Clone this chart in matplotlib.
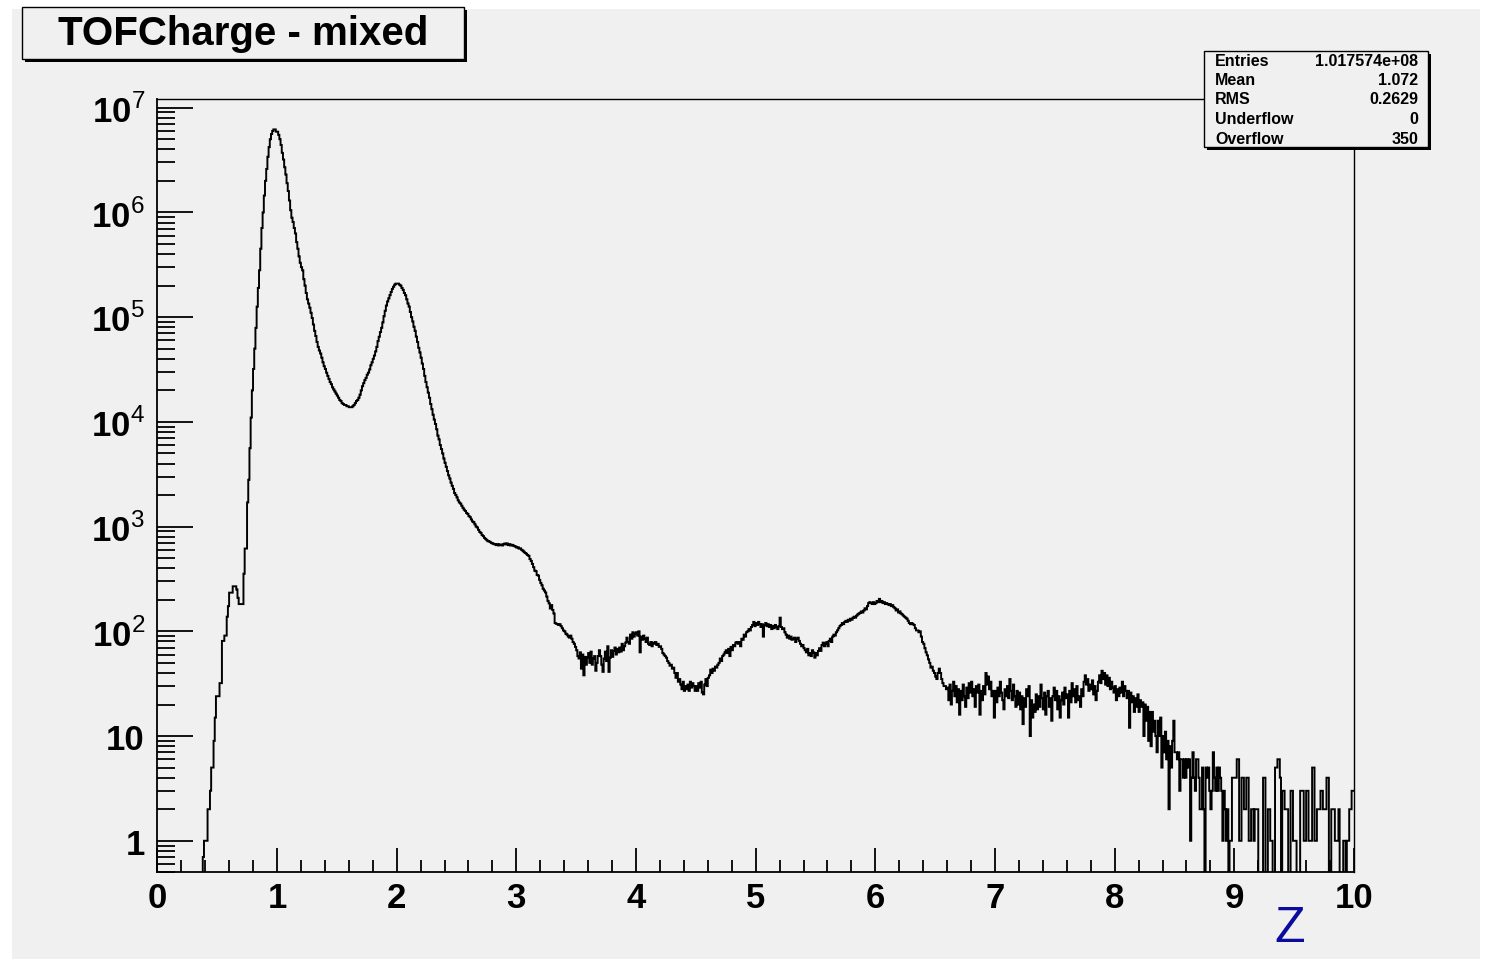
import numpy as np
import matplotlib
matplotlib.use("Agg")
import matplotlib.pyplot as plt
from matplotlib.patches import Rectangle
from matplotlib.ticker import (FixedLocator, LogLocator, MultipleLocator,
                               NullFormatter, FuncFormatter)

plt.rcParams["font.family"] = ["Liberation Sans", "DejaVu Sans"]
plt.rcParams["mathtext.fontset"] = "custom"
plt.rcParams["mathtext.rm"] = "Liberation Sans"
plt.rcParams["mathtext.bf"] = "Liberation Sans:bold"

# TOF charge histogram, 1000 bins of 0.01 in Z, one list per unit of Z
counts_z0 = [
    0, 0, 0, 0, 0, 0, 0, 0, 0, 0,
    0, 0, 0, 0, 0, 0, 0, 0, 0, 0,
    0, 0, 0, 0, 0, 0, 0, 0, 0, 0,
    0, 0, 0, 0, 0, 0, 0, 0, 0.7, 1,
    1, 1, 2, 2, 3, 5, 5, 9, 15, 24,
    24, 24, 32, 32, 81, 81, 91, 91, 138, 174,
    234, 234, 234, 269, 269, 269, 251, 209, 182, 182,
    182, 182, 355, 617, 617, 1700, 2800, 5600, 1.1e4, 2.0e4,
    3.2e4, 5.0e4, 7.9e4, 1.26e5, 1.9e5, 2.8e5, 4.5e5, 7.1e5, 1.0e6, 1.45e6,
    2.0e6, 2.6e6, 3.4e6, 4.2e6, 5.0e6, 5.6e6, 6.0e6, 6.2e6, 6.2e6, 5.9e6,
]
counts_z1 = [
    5.9e6, 5.5e6, 5.0e6, 4.4e6, 3.7e6, 3.2e6, 2.7e6, 2.3e6, 1.9e6, 1.6e6,
    1.3e6, 1.05e6, 8.9e5, 8.1e5, 7.1e5, 6.3e5, 5.2e5, 4.5e5, 3.8e5, 3.3e5,
    3.0e5, 2.8e5, 2.3e5, 2.0e5, 1.7e5, 1.48e5, 1.35e5, 1.23e5, 1.1e5, 9.8e4,
    8.5e4, 7.4e4, 6.6e4, 5.8e4, 5.2e4, 4.8e4, 4.5e4, 4.1e4, 3.7e4, 3.4e4,
    3.2e4, 2.95e4, 2.75e4, 2.57e4, 2.4e4, 2.29e4, 2.14e4, 2.04e4, 1.95e4, 1.86e4,
    1.78e4, 1.7e4, 1.62e4, 1.58e4, 1.51e4, 1.48e4, 1.45e4, 1.45e4, 1.41e4, 1.41e4,
    1.38e4, 1.38e4, 1.38e4, 1.41e4, 1.45e4, 1.51e4, 1.58e4, 1.62e4, 1.7e4, 1.82e4,
    2.0e4, 2.19e4, 2.34e4, 2.5e4, 2.63e4, 2.82e4, 2.95e4, 3.16e4, 3.47e4, 3.7e4,
    4.0e4, 4.3e4, 4.7e4, 5.2e4, 5.9e4, 6.5e4, 7.2e4, 7.9e4, 8.9e4, 1.02e5,
    1.15e5, 1.29e5, 1.41e5, 1.51e5, 1.62e5, 1.74e5, 1.86e5, 1.95e5, 2.04e5, 2.09e5,
]
counts_z2 = [
    2.09e5, 2.09e5, 2.04e5, 2.0e5, 1.9e5, 1.82e5, 1.7e5, 1.62e5, 1.48e5, 1.35e5,
    1.26e5, 1.12e5, 1.0e5, 9.1e4, 8.1e4, 7.4e4, 6.5e4, 5.8e4, 5.1e4, 4.6e4,
    4.1e4, 3.6e4, 3.2e4, 2.75e4, 2.4e4, 2.14e4, 1.9e4, 1.7e4, 1.48e4, 1.32e4,
    1.17e4, 1.05e4, 9550, 8500, 7400, 6800, 6000, 5500, 5000, 4470,
    4070, 3720, 3390, 3090, 2880, 2630, 2450, 2290, 2090, 2000,
    1900, 1780, 1700, 1660, 1580, 1510, 1450, 1410, 1350, 1320,
    1260, 1230, 1170, 1120, 1100, 1050, 1000, 980, 930, 890,
    870, 830, 810, 780, 760, 740, 725, 720, 710, 695,
    690, 680, 675, 665, 680, 660, 675, 670, 660, 680,
    690, 675, 690, 665, 680, 660, 670, 660, 650, 645,
]
counts_z3 = [
    630, 635, 615, 620, 600, 590, 575, 560, 550, 535,
    525, 490, 470, 440, 410, 380, 375, 345, 340, 310,
    290, 275, 255, 245, 235, 215, 195, 185, 165, 178,
    160, 148, 120, 118, 117, 115, 117, 112, 107, 102,
    100, 95, 93, 89, 87, 91, 85, 79, 76, 71,
    66, 58, 55, 63, 44, 60, 38, 57, 48, 56,
    62, 50, 64, 48, 55, 58, 42, 50, 58, 66,
    58, 48, 41, 55, 64, 52, 72, 41, 56, 66,
    57, 65, 70, 60, 68, 63, 70, 64, 76, 66,
    72, 78, 87, 79, 76, 93, 85, 98, 89, 95,
]
counts_z4 = [
    98, 91, 100, 63, 89, 83, 91, 85, 79, 87,
    76, 74, 79, 72, 78, 76, 79, 74, 76, 71,
    72, 68, 62, 60, 58, 56, 52, 50, 47, 48,
    44, 45, 40, 36, 40, 33, 35, 31, 28, 33,
    27, 30, 28, 31, 27, 33, 29, 32, 30, 27,
    30, 27, 32, 29, 33, 26, 25, 31, 35, 30,
    36, 38, 43, 40, 44, 42, 46, 45, 48, 50,
    55, 52, 58, 60, 63, 66, 62, 68, 58, 71,
    66, 74, 72, 78, 79, 76, 79, 72, 85, 83,
    93, 89, 98, 100, 105, 102, 110, 115, 123, 112,
]
counts_z5 = [
    120, 115, 123, 117, 110, 117, 89, 115, 120, 112,
    117, 110, 115, 105, 112, 107, 115, 110, 105, 112,
    135, 110, 105, 107, 98, 93, 87, 91, 85, 89,
    83, 85, 87, 79, 85, 87, 81, 76, 72, 74,
    69, 66, 63, 68, 59, 62, 58, 66, 63, 56,
    62, 59, 65, 69, 65, 74, 78, 72, 76, 79,
    72, 81, 85, 79, 89, 93, 91, 98, 102, 107,
    112, 115, 120, 117, 123, 126, 123, 129, 126, 132,
    129, 135, 138, 135, 141, 145, 148, 151, 155, 151,
    158, 166, 162, 174, 186, 190, 186, 182, 190, 182,
]
counts_z6 = [
    186, 195, 190, 204, 190, 195, 186, 190, 182, 186,
    182, 178, 182, 174, 178, 170, 166, 158, 162, 151,
    155, 148, 145, 141, 138, 135, 132, 126, 120, 117,
    120, 117, 115, 107, 102, 102, 98, 100, 89, 79,
    76, 69, 63, 59, 54, 50, 45, 46, 42, 40,
    37, 35, 40, 44, 40, 35, 32, 30, 30, 28,
    29, 22, 31, 20, 27, 33, 24, 30, 21, 28,
    16, 27, 22, 31, 24, 19, 29, 23, 32, 26,
    33, 24, 28, 19, 30, 26, 31, 16, 27, 22,
    30, 25, 40, 31, 37, 28, 33, 24, 27, 15,
]
counts_z7 = [
    27, 21, 29, 24, 33, 26, 22, 18, 28, 24,
    30, 23, 35, 27, 22, 31, 24, 19, 27, 20,
    26, 18, 24, 13, 23, 19, 28, 24, 30, 10,
    22, 15, 20, 17, 25, 18, 24, 19, 31, 23,
    18, 26, 16, 24, 27, 19, 23, 14, 24, 29,
    22, 27, 18, 24, 15, 22, 26, 20, 29, 23,
    25, 15, 27, 21, 32, 24, 28, 21, 30, 22,
    24, 19, 28, 24, 33, 38, 31, 35, 27, 31,
    28, 34, 25, 30, 22, 27, 33, 38, 32, 42,
    35, 40, 31, 38, 30, 36, 28, 33, 29, 26,
]
counts_z8 = [
    30, 22, 28, 24, 29, 26, 33, 24, 30, 27,
    23, 27, 12, 26, 21, 24, 17, 23, 19, 25,
    17, 22, 19, 21, 10, 20, 14, 19, 9, 17,
    8, 17, 11, 14, 10, 7, 14, 10, 15, 5,
    10, 7, 11, 6, 9, 2, 8, 5, 9, 14,
    7, 7, 6, 7, 3, 6, 6, 4, 6, 4,
    6, 5, 6, 1, 4, 7, 4, 3, 6, 6,
    4, 2, 2, 5, 2, 0, 5, 4, 5, 3,
    2, 3, 7, 4, 3, 5, 3, 5, 4, 3,
    1, 3, 2, 1, 2, 0, 1, 1, 4, 4,
]
counts_z9 = [
    4, 4, 6, 6, 1, 1, 4, 4, 2, 2,
    4, 4, 1, 1, 2, 2, 1, 2, 2, 2,
    0, 0, 0, 0, 4, 4, 0, 0, 2, 2,
    1, 1, 0, 0, 5, 5, 6, 6, 4, 0,
    3, 3, 2, 2, 2, 0, 0, 3, 3, 1,
    1, 1, 0, 0, 0, 3, 3, 3, 1, 1,
    3, 3, 1, 1, 1, 5, 5, 1, 1, 2,
    2, 2, 3, 3, 2, 2, 2, 4, 4, 0,
    0, 2, 2, 2, 1, 1, 1, 2, 0, 0,
    0, 1, 1, 0, 1, 1, 2, 2, 3, 3,
]

z_range = (0, 10)
title = "TOFCharge - mixed"
stat_names = ["Entries", "Mean", "RMS", "Underflow", "Overflow"]
stat_values = ["1.017574e+08", "1.072", "0.2629", "0", "350"]

counts = np.concatenate([counts_z0, counts_z1, counts_z2, counts_z3, counts_z4,
                         counts_z5, counts_z6, counts_z7, counts_z8, counts_z9])
edges = np.linspace(z_range[0], z_range[1], len(counts) + 1)

W, H = 1488, 962
bg = "#f0f0f0"
fig = plt.figure(figsize=(W / 100, H / 100), dpi=100, facecolor="white")


def fx(px):
    return px / W


def fy(py):
    return 1 - py / H


# canvas pad
fig.add_artist(Rectangle((fx(12), fy(960)), fx(1480) - fx(12), fy(10) - fy(960),
                         transform=fig.transFigure, facecolor=bg, edgecolor="none", zorder=-10))

ax = fig.add_axes([fx(157.3), fy(873.3), fx(1354) - fx(157.3), fy(100) - fy(873.3)])
ax.set_facecolor(bg)

ax.stairs(counts, edges, color="black", lw=1.4, baseline=None)

ax.set_yscale("log")
ax.set_xlim(*z_range)
ax.set_ylim(0.5, 1.21e7)

ax.xaxis.set_major_locator(MultipleLocator(1))
ax.xaxis.set_minor_locator(MultipleLocator(0.2))
ax.yaxis.set_major_locator(FixedLocator(10.0 ** np.arange(0, 8)))
ax.yaxis.set_minor_locator(LogLocator(base=10, subs=np.arange(2, 10), numticks=20))
ax.yaxis.set_minor_formatter(NullFormatter())


def log_label(v, pos):
    e = int(round(np.log10(v)))
    if e == 0:
        return "1"
    if e == 1:
        return "10"
    return r"$\mathbf{10}^{%d}$" % e


ax.yaxis.set_major_formatter(FuncFormatter(log_label))

ax.tick_params(axis="both", which="both", direction="in", width=1.3, colors="black",
               top=False, right=False)
ax.tick_params(axis="y", which="major", length=26, pad=9, labelsize=25)
ax.tick_params(axis="y", which="minor", length=13)
ax.tick_params(axis="x", which="major", length=17, pad=6, labelsize=25)
ax.tick_params(axis="x", which="minor", length=8.6)
for lab in ax.get_xticklabels() + ax.get_yticklabels():
    lab.set_fontweight("bold")

for side in ["left", "bottom"]:
    ax.spines[side].set_linewidth(1.3)
for side in ["top", "right"]:
    ax.spines[side].set_linewidth(1.0)

# axis title
fig.text(fx(1290), fy(929), "Z", color="#0b0b9e", fontsize=36,
         ha="center", va="center")


def shadow_box(x0, y0, x1, y1, off=3):
    fig.add_artist(Rectangle((fx(x0 + off), fy(y1 + off)), fx(x1) - fx(x0), fy(y0) - fy(y1),
                             transform=fig.transFigure, facecolor="black",
                             edgecolor="none", zorder=5))
    fig.add_artist(Rectangle((fx(x0), fy(y1)), fx(x1) - fx(x0), fy(y0) - fy(y1),
                             transform=fig.transFigure, facecolor=bg,
                             edgecolor="black", lw=1.0, zorder=6))


# title pave
shadow_box(22, 8, 464, 60)
fig.text(fx(243), fy(34), title, fontsize=29, fontweight="bold",
         ha="center", va="center", zorder=7)

# statistics box
shadow_box(1204, 52, 1428, 148)
for k, (name, val) in enumerate(zip(stat_names, stat_values)):
    yy = fy(61 + 19.5 * k)
    fig.text(fx(1215), yy, name, fontsize=11.5, fontweight="bold",
             ha="left", va="center", zorder=7)
    fig.text(fx(1418), yy, val, fontsize=11.5, fontweight="bold",
             ha="right", va="center", zorder=7)

fig.savefig("out.png", dpi=100, facecolor=fig.get_facecolor())
